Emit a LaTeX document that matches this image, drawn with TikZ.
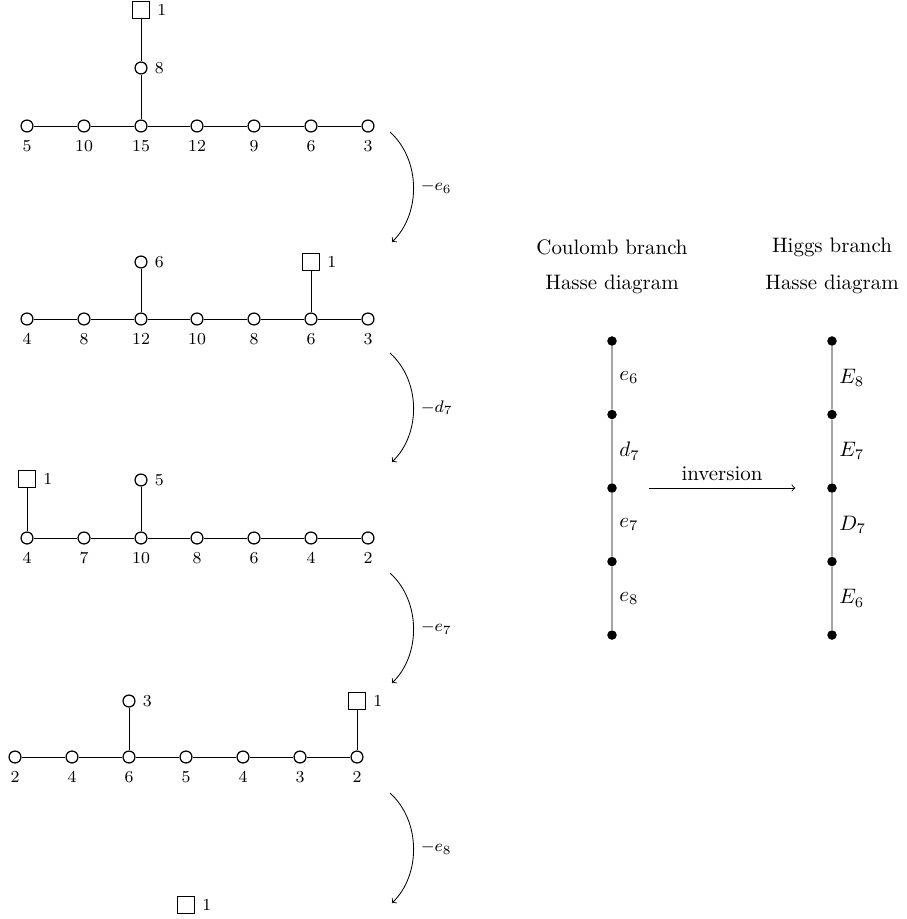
\documentclass[tikz,border=0pt]{standalone}
\begin{document}
\begin{tikzpicture}[x=0.168mm,y=-0.168mm,level distance=12.35mm]
  \tikzstyle{gauge}=[circle,draw,semithick,inner sep=0pt,minimum size=2mm]
  \tikzstyle{flavour}=[rectangle,draw,semithick,inner sep=0pt,minimum size=2.8mm]
  \tikzstyle{hasse}=[circle,fill,inner sep=0pt,minimum size=1.6mm]
  \tikzstyle{every label}=[font=\footnotesize]
  \tikzstyle{higgsing}=[->,font=\footnotesize]
  \useasboundingbox (0,0) rectangle (906,919);
  % first quiver
  \node[gauge,label=below:5] (qa1) at (27,126) {};
  \node[gauge,label=below:10] (qa2) at (84,126) {};
  \node[gauge,label=below:15] (qa3) at (141,126) {};
  \node[gauge,label=below:12] (qa4) at (197,126) {};
  \node[gauge,label=below:9] (qa5) at (254,126) {};
  \node[gauge,label=below:6] (qa6) at (311,126) {};
  \node[gauge,label=below:3] (qa7) at (368,126) {};
  \node[gauge,label=right:8] (qa8) at (141,68) {};
  \node[flavour,label=right:1] (qaf) at (141,10) {};
  \draw (qa1) -- (qa2) -- (qa3) -- (qa4) -- (qa5) -- (qa6) -- (qa7);
  \draw (qa3) -- (qa8) -- (qaf);
  % second quiver
  \node[gauge,label=below:4] (qb1) at (27,319) {};
  \node[gauge,label=below:8] (qb2) at (84,319) {};
  \node[gauge,label=below:12] (qb3) at (141,319) {};
  \node[gauge,label=below:10] (qb4) at (197,319) {};
  \node[gauge,label=below:8] (qb5) at (254,319) {};
  \node[gauge,label=below:6] (qb6) at (311,319) {};
  \node[gauge,label=below:3] (qb7) at (368,319) {};
  \node[gauge,label=right:6] (qb8) at (141,262) {};
  \node[flavour,label=right:1] (qbf) at (311,262) {};
  \draw (qb1) -- (qb2) -- (qb3) -- (qb4) -- (qb5) -- (qb6) -- (qb7);
  \draw (qb3) -- (qb8);
  \draw (qb6) -- (qbf);
  % third quiver
  \node[gauge,label=below:4] (qc1) at (27,538) {};
  \node[gauge,label=below:7] (qc2) at (84,538) {};
  \node[gauge,label=below:10] (qc3) at (141,538) {};
  \node[gauge,label=below:8] (qc4) at (197,538) {};
  \node[gauge,label=below:6] (qc5) at (254,538) {};
  \node[gauge,label=below:4] (qc6) at (311,538) {};
  \node[gauge,label=below:2] (qc7) at (368,538) {};
  \node[gauge,label=right:5] (qc8) at (141,480) {};
  \node[flavour,label=right:1] (qcf) at (27,479) {};
  \draw (qc1) -- (qc2) -- (qc3) -- (qc4) -- (qc5) -- (qc6) -- (qc7);
  \draw (qc3) -- (qc8);
  \draw (qc1) -- (qcf);
  % fourth quiver
  \node[gauge,label=below:2] (qd1) at (15,757) {};
  \node[gauge,label=below:4] (qd2) at (72,757) {};
  \node[gauge,label=below:6] (qd3) at (129,757) {};
  \node[gauge,label=below:5] (qd4) at (186,757) {};
  \node[gauge,label=below:4] (qd5) at (243,757) {};
  \node[gauge,label=below:3] (qd6) at (300,757) {};
  \node[gauge,label=below:2] (qd7) at (357,757) {};
  \node[gauge,label=right:3] (qd8) at (129,701) {};
  \node[flavour,label=right:1] (qdf) at (357,701) {};
  \draw (qd1) -- (qd2) -- (qd3) -- (qd4) -- (qd5) -- (qd6) -- (qd7);
  \draw (qd3) -- (qd8);
  \draw (qd7) -- (qdf);
  % last one
  \node[flavour,label=right:1] (qef) at (186,905) {};
  % higgsings
  \coordinate (sa) at (390,132); \coordinate (ea) at (392,242);
  \coordinate (sb) at (390,353); \coordinate (eb) at (392,462);
  \coordinate (sc) at (390,573); \coordinate (ec) at (392,683);
  \coordinate (sd) at (390,793); \coordinate (ed) at (392,903);
  \draw[higgsing] (sa) .. controls +(31,28) and +(29,-28) .. (ea) node[pos=0.5,right] {$-e_6$};
  \draw[higgsing] (sb) .. controls +(31,28) and +(29,-28) .. (eb) node[pos=0.5,right] {$-d_7$};
  \draw[higgsing] (sc) .. controls +(31,28) and +(29,-28) .. (ec) node[pos=0.5,right] {$-e_7$};
  \draw[higgsing] (sd) .. controls +(31,28) and +(29,-28) .. (ed) node[pos=0.5,right] {$-e_8$};
  % Hasse diagrams
  \node (cbt) at (612,247) {Coulomb branch};
  \node (cbh) at (612,284) {Hasse diagram};
  \node (hbt) at (832,247) {Higgs branch};
  \node (hbh) at (832,284) {Hasse diagram};
  \node[hasse] (cb1) at (612,341) {}
    child {node[hasse] (cb2) {}
      child {node[hasse] (cb3) {}
        child {node[hasse] (cb4) {}
          child {node[hasse] (cb5) {}
                 edge from parent node[right] {$e_8$}}
               edge from parent node[right] {$e_7$}}
             edge from parent node[right] {$d_7$}}
           edge from parent node[right] {$e_6$}};
  \node[hasse] (hb1) at (832,341) {}
    child {node[hasse] (hb2) {}
      child {node[hasse] (hb3) {}
        child {node[hasse] (hb4) {}
          child {node[hasse] (hb5) {}
                 edge from parent node[right] {$E_6$}}
               edge from parent node[right] {$D_7$}}
             edge from parent node[right] {$E_7$}}
           edge from parent node[right] {$E_8$}};
  \draw[->,shorten >=5.3mm,shorten <=5.4mm] (cb3) -- node[above] {inversion} (hb3);
\end{tikzpicture}
\end{document}
